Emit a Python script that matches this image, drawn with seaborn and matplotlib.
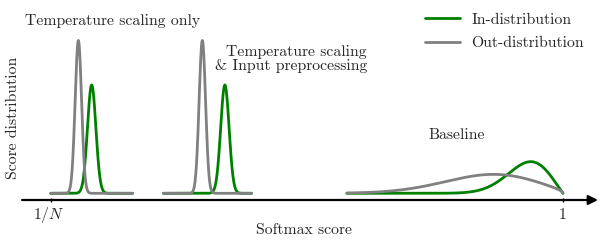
import numpy as np
import pandas as pd
import matplotlib
matplotlib.use('Agg')
import matplotlib.pyplot as plt
import seaborn as sns

# Curve parameters.
# x is the softmax score rescaled so that 0 -> 1/N and 1 -> 1, heights relative to tallest peak.
kinds = ['In-distribution', 'Out-distribution'] * 3
groups = ['temp_only', 'temp_only', 'temp_input', 'temp_input', 'baseline', 'baseline']
peak_mu = [0.080, 0.054, 0.340, 0.296, 0.985, 0.905]
peak_sigma = [0.0082, 0.0063, 0.0082, 0.0063, 0.055, 0.105]
peak_height = [0.709, 1.0, 0.709, 1.0, 0.207, 0.124]
tail_power = [0, 0, 0, 0, 1.0, 0.5]
seg_start = [0.0, 0.0, 0.22, 0.22, 0.578, 0.578]
seg_end = [0.16, 0.16, 0.392, 0.392, 1.0, 1.0]

tick_pos = [0, 1]
tick_labels = [r'$1/N$', '1']

sns.set_theme(style='white')
plt.rcParams['font.family'] = ['cmr10', 'DejaVu Serif']
plt.rcParams['mathtext.fontset'] = 'cm'
plt.rcParams['axes.unicode_minus'] = False

# build long table of curves
frames = []
for i in range(len(kinds)):
    x = np.linspace(seg_start[i], seg_end[i], 500)
    y = np.clip(1 - x, 0, None) ** tail_power[i] * np.exp(-(x - peak_mu[i]) ** 2 / (2 * peak_sigma[i] ** 2))
    y = peak_height[i] * y / y.max()
    frames.append(pd.DataFrame({'score': x, 'density': y, 'kind': kinds[i], 'group': groups[i]}))
df = pd.concat(frames, ignore_index=True)

fig = plt.figure(figsize=(6, 2.45), dpi=100)
ax = fig.add_axes([0, 0, 1, 1])

# pixel layout of the reference
X0, SC = 50.7, 512.3
Y0, YS = 193.3, 152.8
ax.set_xlim(-X0 / SC, (600 - X0) / SC)
ax.set_ylim(-(245 - Y0) / YS, Y0 / YS)
ax.set_axis_off()

palette = {'In-distribution': '#008000', 'Out-distribution': '#808080'}
sns.lineplot(data=df, x='score', y='density', hue='kind', units='group', estimator=None,
             sort=False, palette=palette, hue_order=['In-distribution', 'Out-distribution'],
             lw=2.0, ax=ax)

# horizontal axis with arrow
ya = (Y0 - 200) / YS
ax.annotate('', xy=((598 - X0) / SC, ya), xytext=((22 - X0) / SC, ya),
            arrowprops=dict(arrowstyle='-|>', color='black', lw=1.6, mutation_scale=14,
                            shrinkA=0, shrinkB=0))
ax.vlines(tick_pos, ya - 0.014, ya + 0.014, color='black', lw=1.0)


def fx(px):
    return px / 600


def fy(py):
    return 1 - py / 245


fs = 11.3
fig.text(fx(49), fy(215), tick_labels[0], ha='center', va='center', fontsize=fs)
fig.text(fx(563), fy(215), tick_labels[1], ha='center', va='center', fontsize=fs)
fig.text(fx(304), fy(230), 'Softmax score', ha='center', va='center', fontsize=fs)
fig.text(fx(13), fy(118), 'Score distribution', ha='center', va='center', rotation=90, fontsize=fs)
fig.text(fx(25), fy(21), 'Temperature scaling only', ha='left', va='center', fontsize=fs)
fig.text(fx(367), fy(59), 'Temperature scaling\n& Input preprocessing', ha='right', va='center',
         multialignment='right', fontsize=fs, linespacing=1.05)
fig.text(fx(457), fy(135), 'Baseline', ha='center', va='center', fontsize=fs)

ax.legend(loc='upper left', bbox_to_anchor=(fx(425), fy(13)), bbox_transform=fig.transFigure,
          frameon=False, fontsize=fs, handlelength=2.2, handletextpad=0.75, labelspacing=0.58,
          borderpad=0, borderaxespad=0)

fig.savefig('out.png', dpi=100)
